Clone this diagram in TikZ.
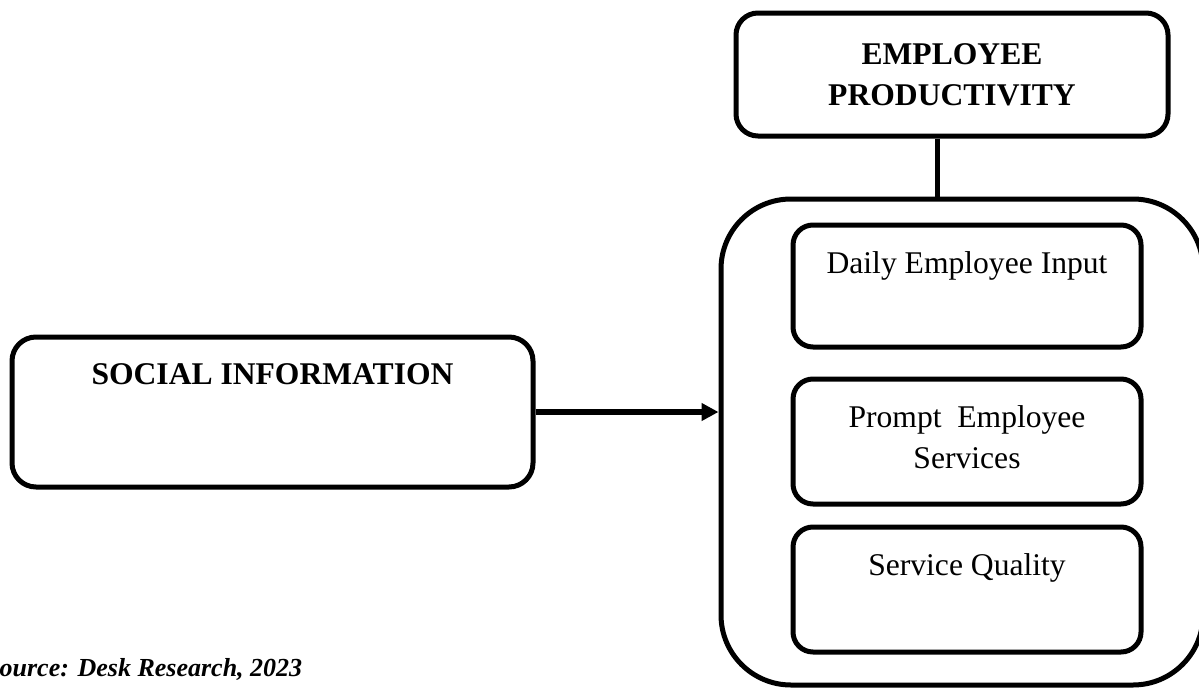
\documentclass[tikz,border=0pt]{standalone}
\usepackage{fontspec}
\setmainfont{Liberation Serif}
\usepackage{tikz}
\usetikzlibrary{arrows.meta,positioning}

\begin{document}
\begin{tikzpicture}[x=1pt,y=-1pt, node distance=29pt,
    every node/.style={font=\fontsize{31.6}{41}\selectfont,inner sep=0pt},
    framebox/.style={draw,line width=5pt,rounded corners=#1},
    itembox/.style={framebox=20pt,minimum width=348pt,minimum height=124pt},
    boldtxt/.style={font=\fontsize{31.6}{41}\selectfont\bfseries,align=center},
    itemtxt/.style={align=center}]
      \useasboundingbox (0,0) rectangle (1199,688);
      % outcome variable
      \node[framebox=22pt,boldtxt,minimum width=432pt,minimum height=123pt] (prod) at (952,74.5) {EMPLOYEE\\PRODUCTIVITY};
      \node[framebox=70pt,minimum width=482pt,minimum height=486pt] (group) at (962,442) {};
      \node[itembox,minimum height=122pt] (daily) at (967,286) {};
      \node[itembox,minimum height=125pt] (prompt) at (967,441.5) {};
      \node[itembox,minimum height=125pt] (quality) at (967,589.5) {};
      \node[itemtxt,below=of daily.north] (dailytxt) {Daily Employee Input};
      \node[itemtxt,below=of prompt.north] (prompttxt) {Prompt~ Employee\\Services};
      \node[itemtxt,below=of quality.north] (qualitytxt) {Service Quality};
      % predictor
      \node[framebox=24pt,minimum width=521pt,minimum height=150pt] (social) at (272.5,412) {};
      \node[boldtxt,below=of social.north] (socialtxt) {SOCIAL INFORMATION};
      \draw[line width=5pt] ([xshift=-15pt]prod.south) -- ([xshift=-15pt]prod.south |- group.north);
      \draw[line width=5.5pt,-{Triangle[length=17pt,width=17pt]}] (social.east) -- (social.east -| group.west);
      \node[font=\fontsize{26}{30}\selectfont\bfseries\itshape,anchor=base west] (source) at (-15,676) {Source: Desk Research, 2023};
    \end{tikzpicture}
\end{document}
